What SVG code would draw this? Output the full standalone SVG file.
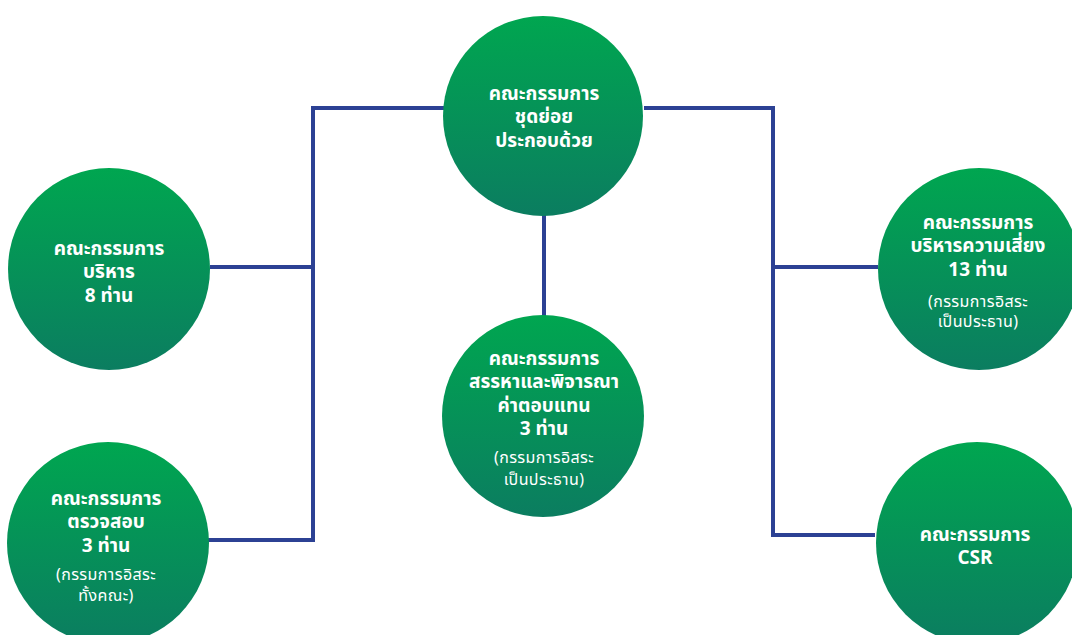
<svg xmlns="http://www.w3.org/2000/svg" width="1072" height="635" viewBox="0 0 1072 635">
<defs>
<linearGradient id="g" x1="0" y1="0" x2="0" y2="1">
<stop offset="0" stop-color="#00a650"/>
<stop offset="1" stop-color="#0b7d60"/>
</linearGradient>
<style>
.c{fill:url(#g)}
.t{font-family:"Noto Sans Thai","Noto Sans","DejaVu Sans",sans-serif;font-weight:bold;font-size:19px;fill:#fff;text-anchor:middle}
.s{font-family:"Noto Sans Thai","Noto Sans","DejaVu Sans",sans-serif;font-size:16px;letter-spacing:0.4px;fill:#fff;text-anchor:middle}
.l{fill:none;stroke:#2c4194;stroke-width:4}
</style>
</defs>
<rect width="1072" height="635" fill="#fff"/>
<g id="connectors">
<path class="l" d="M444 108H313V540H208M210 267H313"/>
<path class="l" d="M644 108H773V535H875M773 267H878"/>
<path class="l" d="M544 214V316"/>
</g>
<g id="top">
<circle class="c" cx="543" cy="116" r="100"/>
<text class="t" x="544" y="100">คณะกรรมการ</text>
<text class="t" x="544" y="123">ชุดย่อย</text>
<text class="t" x="544" y="147">ประกอบด้วย</text>
</g>
<g id="middle">
<circle class="c" cx="543" cy="416" r="101"/>
<text class="t" x="544" y="365">คณะกรรมการ</text>
<text class="t" x="544" y="388">สรรหาและพิจารณา</text>
<text class="t" x="544" y="412">ค่าตอบแทน</text>
<text class="t" x="544" y="435">3 ท่าน</text>
<text class="s" x="544" y="463">(กรรมการอิสระ</text>
<text class="s" x="544" y="485">เป็นประธาน)</text>
</g>
<g id="exec">
<circle class="c" cx="109" cy="269" r="101"/>
<text class="t" x="109" y="255">คณะกรรมการ</text>
<text class="t" x="109" y="278">บริหาร</text>
<text class="t" x="109" y="302">8 ท่าน</text>
</g>
<g id="audit">
<circle class="c" cx="108" cy="543" r="101"/>
<text class="t" x="106" y="505">คณะกรรมการ</text>
<text class="t" x="106" y="528">ตรวจสอบ</text>
<text class="t" x="106" y="552">3 ท่าน</text>
<text class="s" x="106" y="580">(กรรมการอิสระ</text>
<text class="s" x="106" y="601">ทั้งคณะ)</text>
</g>
<g id="risk">
<circle class="c" cx="979" cy="269" r="101"/>
<text class="t" x="978" y="229">คณะกรรมการ</text>
<text class="t" x="978" y="252">บริหารความเสี่ยง</text>
<text class="t" x="978" y="276">13 ท่าน</text>
<text class="s" x="978" y="307">(กรรมการอิสระ</text>
<text class="s" x="978" y="327">เป็นประธาน)</text>
</g>
<g id="csr">
<circle class="c" cx="977" cy="543" r="101"/>
<text class="t" x="975" y="541">คณะกรรมการ</text>
<text class="t" x="975" y="564">CSR</text>
</g>
</svg>
